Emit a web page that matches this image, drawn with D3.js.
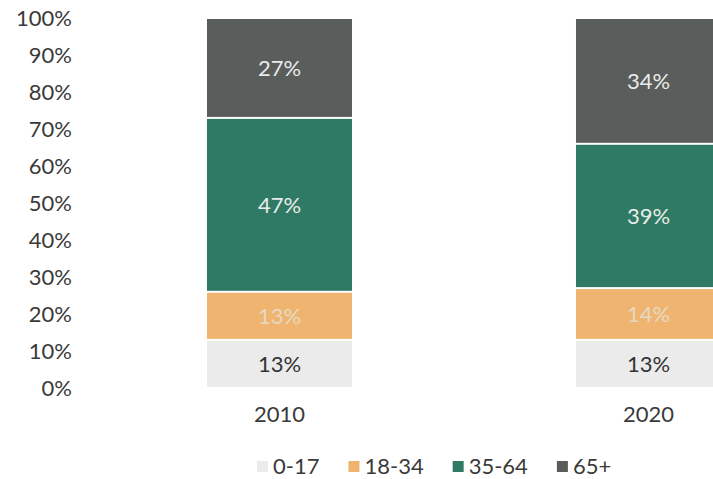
<!DOCTYPE html>
<html>
<head>
<meta charset="utf-8">
<script src="https://cdn.jsdelivr.net/npm/d3@7"></script>
<style>
  html, body { margin: 0; padding: 0; background: #fff; }
  svg { display: block; font-family: Lato, "Open Sans", sans-serif; }
</style>
</head>
<body>
<svg id="chart" width="713" height="479"></svg>
<script>
// Age-group shares of the population, by year
const years = ["2010", "2020"];
const groups = ["0-17", "18-34", "35-64", "65+"];
const share0to17 = [13, 13];
const share18to34 = [13, 14];
const share35to64 = [47, 39];
const share65plus = [27, 34];
const yTicks = [0, 10, 20, 30, 40, 50, 60, 70, 80, 90, 100];

const groupColors = ["#ebebeb", "#efb570", "#2e7a64", "#595d5b"];
const labelColors = ["#333333", "#e6d9c2", "#e9ece9", "#e9ebea"];

const rows = years.map((y, i) => ({
  year: y,
  "0-17": share0to17[i],
  "18-34": share18to34[i],
  "35-64": share35to64[i],
  "65+": share65plus[i]
}));
const stacked = d3.stack().keys(groups)(rows);

const svg = d3.select("#chart");
const textColor = "#3a3a3a";
const fontSize = 22;

const y = d3.scaleLinear().domain([0, 100]).range([388, 18]);
const x = d3.scaleBand().domain(years)
  .range([22.5, 905.5]).paddingInner(0.607).paddingOuter(0.5);

// Y axis: percentage labels only
const yAxis = d3.axisLeft(y).tickValues(yTicks).tickFormat(d => d + "%").tickSize(0).tickPadding(0);
const yg = svg.append("g").attr("transform", "translate(72,0)").call(yAxis);
yg.select(".domain").remove();
yg.selectAll("text").attr("fill", textColor).style("font-size", fontSize + "px")
  .style("font-family", "Lato, sans-serif");

// Stacked bars
const layer = svg.append("g").selectAll("g").data(stacked).join("g")
  .attr("fill", (d, i) => groupColors[i]);
layer.selectAll("rect").data(d => d).join("rect")
  .attr("x", d => x(d.data.year))
  .attr("width", x.bandwidth())
  .attr("y", d => y(d[1]) + 1)
  .attr("height", d => Math.max(0, y(d[0]) - y(d[1]) - 2));

// Segment value labels
svg.append("g").selectAll("g").data(stacked).join("g")
  .attr("fill", (d, i) => labelColors[i])
  .selectAll("text").data(d => d).join("text")
  .attr("x", d => x(d.data.year) + x.bandwidth() / 2)
  .attr("y", d => y((d[0] + d[1]) / 2))
  .attr("dy", "0.35em")
  .attr("text-anchor", "middle")
  .style("font-size", fontSize + "px")
  .text(d => (d[1] - d[0]) + "%");

// X axis: year labels
const xAxis = d3.axisBottom(x).tickSize(0).tickPadding(0);
const xg = svg.append("g").attr("transform", "translate(0,406)").call(xAxis);
xg.select(".domain").remove();
xg.selectAll("text").attr("fill", textColor).style("font-size", fontSize + "px")
  .style("font-family", "Lato, sans-serif");

// Legend
const legend = svg.append("g").attr("transform", "translate(257,466)");
let lx = 0;
groups.forEach((g, i) => {
  const item = legend.append("g").attr("transform", `translate(${lx},0)`);
  item.append("rect").attr("x", 0).attr("y", -5).attr("width", 11).attr("height", 11)
    .attr("fill", groupColors[i]);
  const t = item.append("text").attr("x", 16).attr("y", 0).attr("dy", "0.35em")
    .attr("fill", textColor).style("font-size", fontSize + "px").text(g);
  lx += 16 + t.node().getComputedTextLength() + 29;
});
</script>
</body>
</html>
